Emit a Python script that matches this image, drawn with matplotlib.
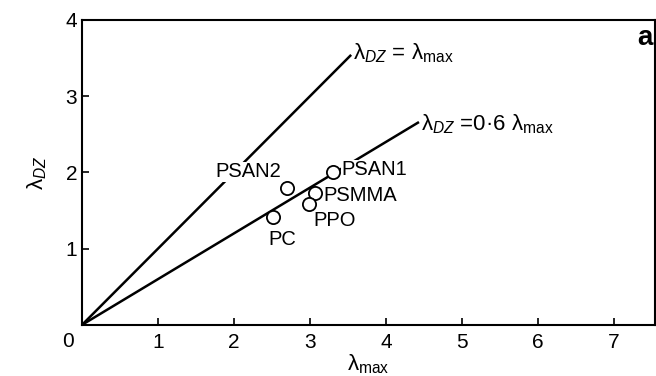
import numpy as np
import matplotlib.pyplot as plt

plt.rcParams['font.family'] = ['Liberation Sans', 'DejaVu Sans']
plt.rcParams['mathtext.fontset'] = 'custom'
plt.rcParams['mathtext.rm'] = 'Liberation Sans'
plt.rcParams['mathtext.it'] = 'Liberation Sans:italic'

# polymers: lambda_max vs lambda_DZ
names = ['PSAN1', 'PSMMA', 'PPO', 'PSAN2', 'PC']
lam_max = [3.30, 3.06, 2.99, 2.70, 2.51]
lam_dz = [2.00, 1.73, 1.59, 1.79, 1.41]

# reference lines lambda_DZ = k * lambda_max
slopes = [1.0, 0.6]
line_ends = [3.53, 4.42]

# label offsets in points (text, not data)
offsets = {'PSAN1': (6, 2), 'PSMMA': (6, -2), 'PPO': (3, -12),
           'PSAN2': (-52, 12), 'PC': (-3, -16)}

fig = plt.figure(figsize=(6.56, 3.76), dpi=100)
ax = fig.add_axes([0.125, 0.136, 0.8735, 0.811])

for k, xe in zip(slopes, line_ends):
    xs = np.array([0, xe])
    ax.plot(xs, k * xs, color='black', lw=1.8, zorder=2)

ax.plot(lam_max, lam_dz, 'o', ms=9.5, mfc='white', mec='black', mew=1.3,
        linestyle='none', zorder=4)

for n, x, y in zip(names, lam_max, lam_dz):
    dx, dy = offsets[n]
    ax.annotate(n, (x, y), xytext=(dx, dy), textcoords='offset points',
                fontsize=14.5, va='center', ha='left', zorder=3,
                bbox=dict(facecolor='white', edgecolor='none', pad=0.3))

ax.text(line_ends[0] + 0.04, line_ends[0] * slopes[0] + 0.03,
        'λ$_{DZ}$ = λ$_{\\rm max}$', fontsize=16, va='center', ha='left')
ax.text(line_ends[1] + 0.04, line_ends[1] * slopes[1] - 0.02,
        'λ$_{DZ}$ =0·6 λ$_{\\rm max}$', fontsize=16, va='center', ha='left')

ax.text(0.996, 0.94, 'a', transform=ax.transAxes, fontsize=20,
        fontweight='bold', ha='right', va='center')

ax.set_xlim(0, 7.54)
ax.set_ylim(0, 4)
ax.set_xticks(range(1, 8))
ax.set_yticks(range(1, 5))
ax.tick_params(direction='in', length=5, width=1.2, labelsize=15)
ax.tick_params(axis='x', pad=6)
ax.text(-0.18, -0.22, '0', fontsize=15, ha='center', va='center')
for s in ax.spines.values():
    s.set_linewidth(1.5)

ax.set_xlabel('λ$_{\\rm max}$', fontsize=16, labelpad=0)
ax.set_ylabel('λ$_{DZ}$', fontsize=16, labelpad=12)

fig.savefig('out.png', dpi=100)
